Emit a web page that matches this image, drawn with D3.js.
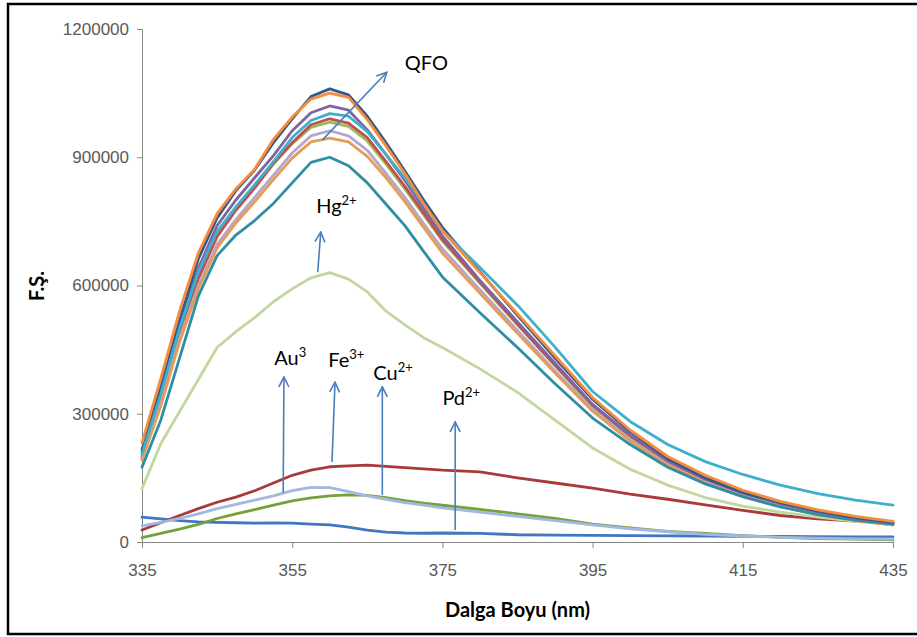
<!DOCTYPE html>
<html>
<head>
<meta charset="utf-8">
<script src="https://cdn.jsdelivr.net/npm/d3@7"></script>
<style>
  html, body { margin: 0; padding: 0; background: #fff; }
  svg { display: block; font-family: Lato, "Open Sans", sans-serif; }
</style>
</head>
<body>
<div id="chart"></div>
<script>
const wavelengths = [335, 337.5, 340, 342.5, 345, 347.5, 350, 352.5, 355, 357.5, 360, 362.5, 365, 367.5, 370, 372.5, 375, 380, 385, 390, 395, 400, 405, 410, 415, 420, 425, 430, 435]

// QFO alone and with the ions that leave it nearly unchanged
const qfoOrange = [232000, 382000, 540000, 676000, 768000, 826000, 872000, 942000, 994000, 1036000, 1050000, 1040000, 988000, 926000, 862000, 792000, 728000, 630000, 534000, 436000, 338000, 262000, 200000, 156000, 121000, 95000, 75000, 60000, 48000]
const seriesNavy = [216000, 362000, 518000, 662000, 758000, 822000, 870000, 934000, 990000, 1042000, 1060000, 1046000, 996000, 934000, 868000, 800000, 736000, 632000, 530000, 430000, 334000, 258000, 195000, 150000, 116000, 92000, 72000, 57000, 46000]
const seriesPurple = [210000, 350000, 506000, 640000, 740000, 800000, 852000, 904000, 962000, 1004000, 1020000, 1010000, 964000, 906000, 846000, 780000, 716000, 612000, 515000, 418000, 322000, 250000, 190000, 148000, 115000, 90000, 70000, 56000, 45000]
const seriesCyan = [206000, 346000, 500000, 632000, 726000, 784000, 836000, 890000, 946000, 986000, 1002000, 996000, 960000, 906000, 852000, 790000, 728000, 642000, 554000, 456000, 352000, 282000, 228000, 188000, 158000, 133000, 113000, 98000, 86000]
const seriesRed = [200000, 336000, 490000, 616000, 714000, 776000, 828000, 886000, 934000, 976000, 990000, 980000, 946000, 890000, 832000, 770000, 708000, 608000, 510000, 414000, 320000, 248000, 188000, 146000, 113000, 88000, 69000, 55000, 45000]
const seriesOlive = [198000, 338000, 492000, 620000, 718000, 778000, 830000, 884000, 932000, 970000, 982000, 972000, 938000, 884000, 826000, 765000, 704000, 605000, 508000, 412000, 318000, 246000, 187000, 145000, 112000, 87000, 68000, 54000, 44000]
const seriesLavender = [195000, 326000, 476000, 600000, 696000, 754000, 806000, 858000, 910000, 950000, 962000, 950000, 916000, 862000, 806000, 745000, 686000, 590000, 495000, 400000, 310000, 240000, 182000, 140000, 108000, 84000, 65000, 51000, 40000]
const seriesTan = [192000, 318000, 468000, 592000, 688000, 746000, 796000, 848000, 898000, 936000, 945000, 936000, 902000, 852000, 796000, 736000, 676000, 582000, 488000, 395000, 306000, 236000, 180000, 138000, 106000, 83000, 64000, 50000, 40000]
const seriesTeal = [175000, 285000, 430000, 575000, 670000, 718000, 752000, 792000, 840000, 888000, 900000, 880000, 840000, 790000, 740000, 680000, 620000, 536000, 455000, 370000, 290000, 228000, 175000, 136000, 106000, 82000, 64000, 51000, 42000]

// Quenching ions
const hg = [125000, 230000, 305000, 380000, 455000, 492000, 525000, 562000, 592000, 618000, 630000, 615000, 585000, 540000, 508000, 478000, 455000, 405000, 350000, 285000, 220000, 170000, 133000, 104000, 84000, 70000, 58000, 48000, 40000]
const fe = [28000, 45000, 62000, 78000, 93000, 105000, 120000, 138000, 156000, 168000, 176000, 178000, 180000, 177000, 174000, 171000, 168000, 164000, 150000, 138000, 126000, 112000, 100000, 87000, 74000, 62000, 54000, 49000, 45000]
const au = [38000, 46000, 55000, 66000, 78000, 88000, 98000, 108000, 120000, 128000, 127000, 118000, 108000, 100000, 92000, 86000, 80000, 70000, 60000, 50000, 40000, 31000, 24000, 18000, 14000, 11000, 9000, 7500, 7000]
const cu = [10000, 20000, 30000, 41000, 55000, 66000, 76000, 86000, 96000, 103000, 108000, 110000, 109000, 104000, 97000, 91000, 86000, 76000, 66000, 55000, 42000, 33000, 25000, 20000, 15000, 11000, 8000, 6500, 5000]
const pd = [58000, 54000, 50000, 47000, 46000, 45000, 44000, 44500, 44000, 42000, 40000, 35000, 28000, 23000, 21000, 20500, 21000, 20000, 17000, 16000, 15500, 15000, 14500, 14000, 13500, 13000, 12500, 12000, 12000]

// Axis ticks
const xTicks = [335, 355, 375, 395, 415, 435]
const yTicks = [0, 300000, 600000, 900000, 1200000]

// Draw order (later ones on top) and colours
const seriesList = [
  { values: pd, color: "#4077c0" },
  { values: fe, color: "#a83a39" },
  { values: cu, color: "#76a03a" },
  { values: au, color: "#a2b8de" },
  { values: hg, color: "#c2d79e" },
  { values: seriesOlive, color: "#9bbb59" },
  { values: seriesRed, color: "#c0504d" },
  { values: seriesLavender, color: "#b7a6cc" },
  { values: seriesTan, color: "#e59c58" },
  { values: seriesTeal, color: "#2e8ea4" },
  { values: seriesPurple, color: "#8064a2" },
  { values: seriesNavy, color: "#34588c" },
  { values: seriesCyan, color: "#3fb0cb" },
  { values: qfoOrange, color: "#f68d3b" }
]

// Arrows and their labels, in data units
const arrows = [
  { from: [359.0, 940000], to: [367.6, 1099000] },
  { from: [358.4, 631000], to: [358.8, 725000] },
  { from: [353.8, 115000], to: [353.9, 386000] },
  { from: [360.3, 187000], to: [360.7, 374000] },
  { from: [367.0, 110000], to: [367.0, 363000] },
  { from: [376.7, 28000], to: [376.7, 281000] }
]
const labels = [
  { base: "QFO", sup: "", at: [370.0, 1104000] },
  { base: "Hg", sup: "2+", at: [358.2, 770000] },
  { base: "Au", sup: "3", at: [352.6, 414000] },
  { base: "Fe", sup: "3+", at: [359.8, 409000] },
  { base: "Cu", sup: "2+", at: [365.8, 379000] },
  { base: "Pd", sup: "2+", at: [375.0, 320000] }
]

const width = 917
const height = 637
const margin = { top: 29, right: 24, bottom: 95, left: 142 }

const svg = d3.select("#chart")
  .append("svg")
  .attr("width", width)
  .attr("height", height)

// Outer frame
svg.append("rect")
  .attr("x", 8)
  .attr("y", 4)
  .attr("width", width + 10)
  .attr("height", 630)
  .attr("fill", "#fff")
  .attr("stroke", "#000")
  .attr("stroke-width", 2.5)

const x = d3.scaleLinear()
  .domain([335, 435])
  .range([margin.left, width - margin.right])

const y = d3.scaleLinear()
  .domain([0, 1200000])
  .range([height - margin.bottom, margin.top])

// Y axis
const yAxis = svg.append("g")
  .attr("transform", `translate(${margin.left},0)`)
  .call(d3.axisLeft(y).tickValues(yTicks).tickFormat(d3.format("d")).tickSize(5).tickPadding(8))
yAxis.select(".domain").attr("stroke", "#868686")
yAxis.selectAll(".tick line").attr("stroke", "#868686")
yAxis.selectAll(".tick text")
  .attr("fill", "#595959")
  .style("font-size", "17px")

// X axis
const xAxis = svg.append("g")
  .attr("transform", `translate(0,${height - margin.bottom})`)
  .call(d3.axisBottom(x).tickValues(xTicks).tickSize(6).tickPadding(16))
xAxis.select(".domain").attr("stroke", "#868686")
xAxis.selectAll(".tick line").attr("stroke", "#868686")
xAxis.selectAll(".tick text")
  .attr("fill", "#595959")
  .style("font-size", "17px")

// Axis titles
svg.append("text")
  .attr("x", (margin.left + width - margin.right) / 2)
  .attr("y", 617)
  .attr("text-anchor", "middle")
  .style("font-size", "20px")
  .style("font-weight", "700")
  .attr("fill", "#000")
  .text("Dalga Boyu (nm)")

svg.append("text")
  .attr("transform", "translate(44,286) rotate(-90)")
  .attr("text-anchor", "middle")
  .style("font-size", "20px")
  .style("font-weight", "700")
  .attr("fill", "#000")
  .text("F.Ş.")

// Spectra
const line = d3.line()
  .x((_d, i) => x(wavelengths[i]))
  .y(d => y(d))

svg.append("g")
  .selectAll("path")
  .data(seriesList)
  .join("path")
  .attr("fill", "none")
  .attr("stroke", d => d.color)
  .attr("stroke-width", 2.8)
  .attr("stroke-linejoin", "round")
  .attr("stroke-linecap", "round")
  .attr("d", d => line(d.values))

// Arrows
const arrowColor = "#4a7ebb"
svg.append("defs")
  .append("marker")
  .attr("id", "head")
  .attr("viewBox", "0 0 12 12")
  .attr("refX", 11)
  .attr("refY", 6)
  .attr("markerWidth", 12)
  .attr("markerHeight", 12)
  .attr("markerUnits", "userSpaceOnUse")
  .attr("orient", "auto")
  .append("path")
  .attr("d", "M1,1 L11,6 L1,11")
  .attr("fill", "none")
  .attr("stroke", arrowColor)
  .attr("stroke-width", 1.6)

svg.append("g")
  .selectAll("line")
  .data(arrows)
  .join("line")
  .attr("x1", d => x(d.from[0]))
  .attr("y1", d => y(d.from[1]))
  .attr("x2", d => x(d.to[0]))
  .attr("y2", d => y(d.to[1]))
  .attr("stroke", arrowColor)
  .attr("stroke-width", 1.6)
  .attr("marker-end", "url(#head)")

// Ion labels with superscripts
const labelText = svg.append("g")
  .selectAll("text")
  .data(labels)
  .join("text")
  .attr("x", d => x(d.at[0]))
  .attr("y", d => y(d.at[1]))
  .attr("fill", "#000")
  .style("font-size", "20px")

labelText.append("tspan").text(d => d.base)
labelText.append("tspan")
  .attr("dy", -8)
  .style("font-size", "13px")
  .text(d => d.sup)
</script>
</body>
</html>
